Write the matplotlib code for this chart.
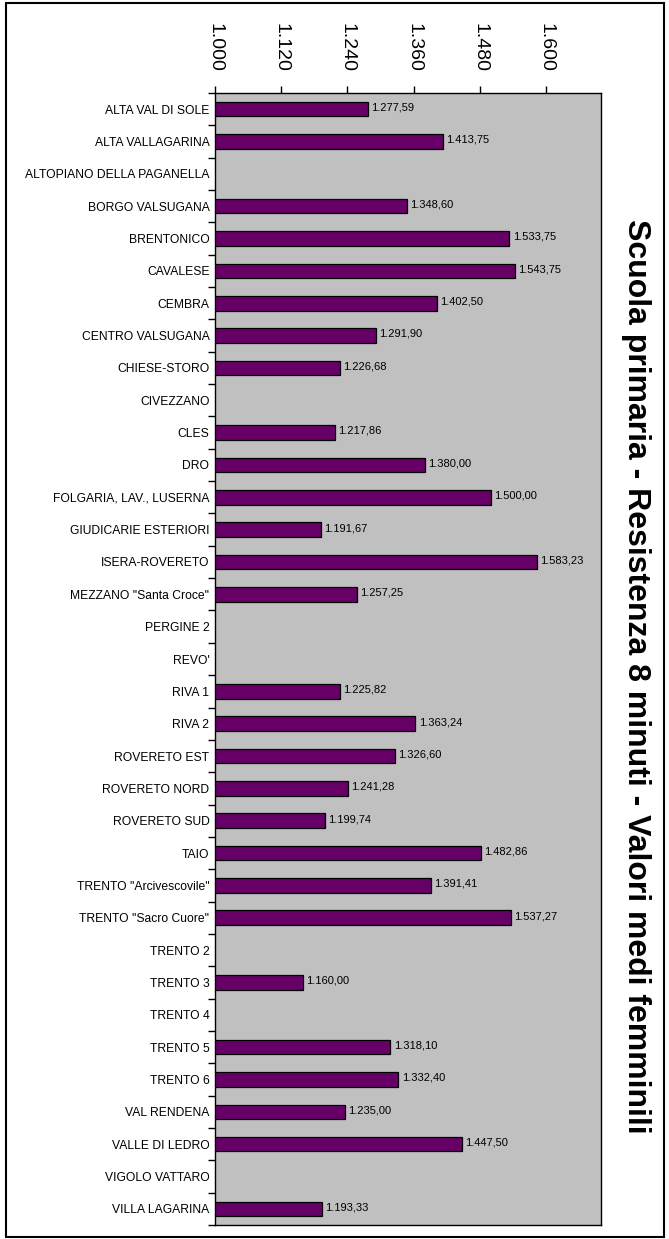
import matplotlib
matplotlib.use("Agg")
import matplotlib.pyplot as plt
import numpy as np
from matplotlib.patches import Rectangle

categories = [
    "ALTA VAL DI SOLE", "ALTA VALLAGARINA", "ALTOPIANO DELLA PAGANELLA",
    "BORGO VALSUGANA", "BRENTONICO", "CAVALESE", "CEMBRA", "CENTRO VALSUGANA",
    "CHIESE-STORO", "CIVEZZANO", "CLES", "DRO", "FOLGARIA, LAV., LUSERNA",
    "GIUDICARIE ESTERIORI", "ISERA-ROVERETO", 'MEZZANO "Santa Croce"',
    "PERGINE 2", "REVO'", "RIVA 1", "RIVA 2", "ROVERETO EST", "ROVERETO NORD",
    "ROVERETO SUD", "TAIO", 'TRENTO "Arcivescovile"', 'TRENTO "Sacro Cuore"',
    "TRENTO 2", "TRENTO 3", "TRENTO 4", "TRENTO 5", "TRENTO 6", "VAL RENDENA",
    "VALLE DI LEDRO", "VIGOLO VATTARO", "VILLA LAGARINA",
]
values = [
    1277.59, 1413.75, None, 1348.60, 1533.75, 1543.75, 1402.50, 1291.90,
    1226.68, None, 1217.86, 1380.00, 1500.00, 1191.67, 1583.23, 1257.25,
    None, None, 1225.82, 1363.24, 1326.60, 1241.28, 1199.74, 1482.86,
    1391.41, 1537.27, None, 1160.00, None, 1318.10, 1332.40, 1235.00,
    1447.50, None, 1193.33,
]
xticks = [1000, 1120, 1240, 1360, 1480, 1600]
title = "Scuola primaria - Resistenza 8 minuti - Valori medi femminili"


def it_fmt(v, dec):
    s = f"{v:,.{dec}f}"
    return s.replace(",", "X").replace(".", ",").replace("X", ".")


W, H = 669, 1239
fig = plt.figure(figsize=(W / 100, H / 100), dpi=100)
fig.patch.set_facecolor("white")
plt.rcParams["font.family"] = ["Liberation Sans", "DejaVu Sans"]

left, right, top, bottom = 215, 601, 93, 1225
ax = fig.add_axes([left / W, 1 - bottom / H, (right - left) / W, (bottom - top) / H])
ax.set_facecolor("#C0C0C0")

n = len(categories)
y = np.arange(n)
base = 1000
for i, v in enumerate(values):
    if v is None:
        continue
    ax.barh(i, v - base, left=base, height=0.45, color="#660066",
            edgecolor="black", linewidth=0.9, zorder=3)
    ax.text(v + 6, i - 0.05, it_fmt(v, 2), fontsize=8, va="center", ha="left",
            color="black", zorder=4)

ax.set_xlim(1000, 1700)
ax.set_ylim(n - 0.5, -0.5)

ax.xaxis.set_ticks_position("top")
ax.set_xticks(xticks)
ax.set_xticklabels([it_fmt(t, 0) for t in xticks], rotation=-90, fontsize=14)
ax.tick_params(axis="x", direction="out", length=5, width=1, pad=10)

ax.set_yticks(y)
ax.set_yticklabels(categories, fontsize=8.7)
ax.tick_params(axis="y", which="major", length=0, pad=4)
ax.set_yticks(np.arange(n + 1) - 0.5, minor=True)
ax.tick_params(axis="y", which="minor", direction="out", length=5, width=1)

for s in ax.spines.values():
    s.set_linewidth(1.0)
    s.set_color("black")

fig.text(636 / W, 1 - 676 / H, title, rotation=-90, fontsize=23,
         fontweight="bold", ha="center", va="center")

fig.patches.append(Rectangle((6 / W, 1 - 1237 / H), (664 - 6) / W, (1237 - 3) / H,
                             transform=fig.transFigure, fill=False,
                             edgecolor="black", linewidth=1.5))

fig.savefig("out.png", dpi=100)
